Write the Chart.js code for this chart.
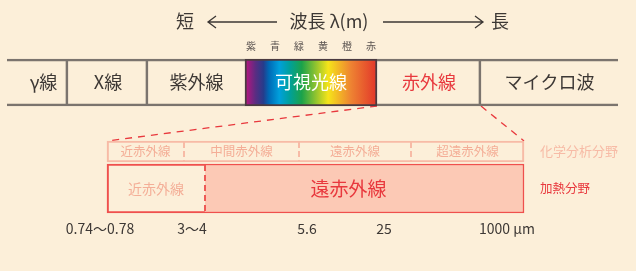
<!DOCTYPE html>
<html>
<head>
<meta charset="utf-8">
<script src="https://cdn.jsdelivr.net/npm/chart.js@4.4.1/dist/chart.umd.min.js"></script>
<style>
html,body{margin:0;padding:0;background:#fcefd9;}
canvas{display:block;}
</style>
</head>
<body>
<canvas id="c" width="636" height="271"></canvas>
<script>
// --- data ---
const bandLabels = ['γ線','X線','紫外線','可視光線','赤外線','マイクロ波'];
const bandWidths = [61, 80, 97, 132, 104, 137];
const colorNames = ['紫','青','緑','黄','橙','赤'];
const chemLabels = ['近赤外線','中間赤外線','遠赤外線','超遠赤外線'];
const chemWidths = [77, 115, 112, 113];
const heatLabels = ['近赤外線','遠赤外線'];
const heatWidths = [98, 319];
const fieldLabels = ['化学分析分野','加熱分野'];
const boundaryLabels = ['0.74〜0.78','3〜4','5.6','25','1000 μm'];

// --- layout ---
const W = 636, H = 271;
const BAND_START = 7, IR_START = 107;
const VIS = 3, IR = 4;
const ROWS = {band:[59,106], chem:[141,162], heat:[164,213]};
const TICK_X = [100,192,307,384,507];
const FONT = '"Noto Sans CJK JP","Noto Sans",sans-serif';
const INK = '#3d3835', GRAY = '#7b746e', RED = '#e8383d', SALMON = '#f4ae97', PALE = '#f7bba6';
const SPECTRUM = [[0,'#c0127f'],[0.08,'#5a2d82'],[0.14,'#253c8c'],[0.18,'#0068b5'],[0.26,'#00a0dc'],
  [0.34,'#00a09a'],[0.43,'#1ba24a'],[0.55,'#a0c82c'],[0.63,'#f5e41a'],[0.8,'#ee8432'],[1,'#e2352a']];

function spans(start, widths){
  let a = start;
  return widths.map(w => { const s = [a, a + w]; a += w; return s; });
}
const rowY = r => (ROWS[r][0] + ROWS[r][1]) / 2;
const rowH = r => ROWS[r][1] - ROWS[r][0];

const bandSpans = spans(BAND_START, bandWidths);
const chemSpans = spans(IR_START, chemWidths);
const heatSpans = spans(IR_START, heatWidths);
const irEnd = chemSpans[chemSpans.length-1][1];

function spectrumFill(c){
  if (c.dataIndex !== VIS) return 'rgba(0,0,0,0)';
  const xs = c.chart.scales.x;
  if (!xs) return '#00a0dc';
  const g = c.chart.ctx.createLinearGradient(xs.getPixelForValue(bandSpans[VIS][0]),0,xs.getPixelForValue(bandSpans[VIS][1]),0);
  SPECTRUM.forEach(s => g.addColorStop(s[0], s[1]));
  return g;
}

const texts = {
  id:'texts',
  afterDatasetsDraw(chart){
    const ctx = chart.ctx, xs = chart.scales.x, ys = chart.scales.y;
    const px = v => xs.getPixelForValue(v), py = v => ys.getPixelForValue(v);
    ctx.save();
    ctx.textAlign = 'center';
    ctx.textBaseline = 'middle';

    // dashed dividers inside the infrared rows
    ctx.setLineDash([6,3]);
    ctx.lineWidth = 2;
    ctx.strokeStyle = PALE;
    chemSpans.slice(1).forEach(s => {
      ctx.beginPath(); ctx.moveTo(px(s[0]), py(ROWS.chem[0])+1); ctx.lineTo(px(s[0]), py(ROWS.chem[1])); ctx.stroke();
    });
    ctx.strokeStyle = '#ee5a55';
    ctx.setLineDash([6,4]);
    heatSpans.slice(1).forEach(s => {
      ctx.beginPath(); ctx.moveTo(px(s[0]), py(ROWS.heat[0])+1); ctx.lineTo(px(s[0]), py(ROWS.heat[1])-1); ctx.stroke();
    });
    ctx.setLineDash([]);

    // bar labels
    const label = (di, list, font, color, dx) => {
      chart.getDatasetMeta(di).data.forEach((el, i) => {
        const p = el.getProps(['x','y','base'], true);
        ctx.font = font(i);
        ctx.fillStyle = color(i);
        ctx.fillText(list[i], (p.x + p.base)/2 + (dx ? dx(i) : 0), p.y);
      });
    };
    label(0, bandLabels, () => '18px ' + FONT, i => i===VIS ? '#ffffff' : i===IR ? RED : INK, i => i===0 ? 6 : 0);
    label(1, chemLabels, () => '12.5px ' + FONT, () => SALMON);
    label(2, heatLabels, i => (i===0 ? '14px ' : '19px ') + FONT, i => i===0 ? SALMON : RED, i => i===1 ? -16 : 0);

    // field names
    ctx.textAlign = 'left';
    ctx.font = '13px ' + FONT;
    ctx.fillStyle = PALE;
    ctx.fillText(fieldLabels[0], px(irEnd)+16, py(rowY('chem')));
    ctx.fillStyle = RED;
    ctx.font = '12.5px ' + FONT;
    ctx.fillText(fieldLabels[1], px(irEnd)+16, py(rowY('heat')));

    // wavelength boundaries
    ctx.textAlign = 'center';
    ctx.font = '14px ' + FONT;
    ctx.fillStyle = INK;
    boundaryLabels.forEach((t, i) => ctx.fillText(t, px(TICK_X[i]), 229));

    // colour names above visible band
    ctx.font = '10px ' + FONT;
    ctx.fillStyle = '#5a5350';
    const a = px(bandSpans[VIS][0]) + 6, b = px(bandSpans[VIS][1]) - 6;
    colorNames.forEach((t, i) => ctx.fillText(t, a + i*(b-a)/(colorNames.length-1), 46));

    // title with arrows
    ctx.font = '18px ' + FONT;
    ctx.fillStyle = INK;
    ctx.fillText('短', 185, 21);
    ctx.fillText('長', 500, 21);
    ctx.fillText('波長 λ(m)', 329, 21);
    ctx.strokeStyle = INK;
    ctx.lineWidth = 1.3;
    ctx.beginPath();
    ctx.moveTo(277, 22); ctx.lineTo(208, 22);
    ctx.moveTo(216, 16); ctx.lineTo(208, 22); ctx.lineTo(216, 28);
    ctx.moveTo(383, 22); ctx.lineTo(483, 22);
    ctx.moveTo(475, 16); ctx.lineTo(483, 22); ctx.lineTo(475, 28);
    ctx.stroke();
    ctx.restore();
  }
};

const sideBorders = (n, w) => c => ({
  top: w, bottom: w,
  left: c.dataIndex === 0 ? w : 0,
  right: c.dataIndex === n-1 ? w : 0
});

new Chart(document.getElementById('c'), {
  data: {
    datasets: [
      {
        type:'bar', indexAxis:'y', grouped:false,
        barThickness: rowH('band'),
        data: bandSpans.map(s => ({x:s, y:rowY('band')})),
        backgroundColor: spectrumFill,
        borderColor: c => c.dataIndex === VIS ? '#4a3a40' : GRAY,
        borderWidth: c => {
          const i = c.dataIndex;
          if (i === VIS) return {top:2, bottom:2, left:2, right:2};
          return {top:2, bottom:2, left:0, right: (i < bandWidths.length-1 && i+1 !== VIS) ? 2 : 0};
        },
        borderSkipped:false
      },
      {
        type:'bar', indexAxis:'y', grouped:false,
        barThickness: rowH('chem'),
        data: chemSpans.map(s => ({x:s, y:rowY('chem')})),
        backgroundColor:'rgba(0,0,0,0)',
        borderColor: PALE,
        borderWidth: sideBorders(chemWidths.length, 1.5),
        borderSkipped:false
      },
      {
        type:'bar', indexAxis:'y', grouped:false,
        barThickness: rowH('heat'),
        data: heatSpans.map(s => ({x:s, y:rowY('heat')})),
        backgroundColor: ['rgba(0,0,0,0)','#fcc9b5'],
        borderColor:'#ef504d',
        borderWidth: sideBorders(heatWidths.length, 1.5),
        borderSkipped:false
      },
      {
        type:'line',
        data: [{x:bandSpans[VIS][1], y:ROWS.band[1]}, {x:IR_START, y:ROWS.chem[0]}],
        borderColor: RED, borderWidth:1.3, borderDash:[7,6], pointRadius:0, fill:false
      },
      {
        type:'line',
        data: [{x:bandSpans[IR][1], y:ROWS.band[1]}, {x:irEnd, y:ROWS.chem[0]}],
        borderColor: RED, borderWidth:1.3, borderDash:[7,6], pointRadius:0, fill:false
      }
    ]
  },
  options: {
    responsive:false,
    animation:false,
    devicePixelRatio:1,
    layout:{padding:0},
    scales:{
      x:{type:'linear', min:0, max:W, display:false, offset:false},
      y:{type:'linear', min:0, max:H, reverse:true, display:false, offset:false}
    },
    plugins:{legend:{display:false}, tooltip:{enabled:false}}
  },
  plugins:[texts]
});
</script>
</body>
</html>
